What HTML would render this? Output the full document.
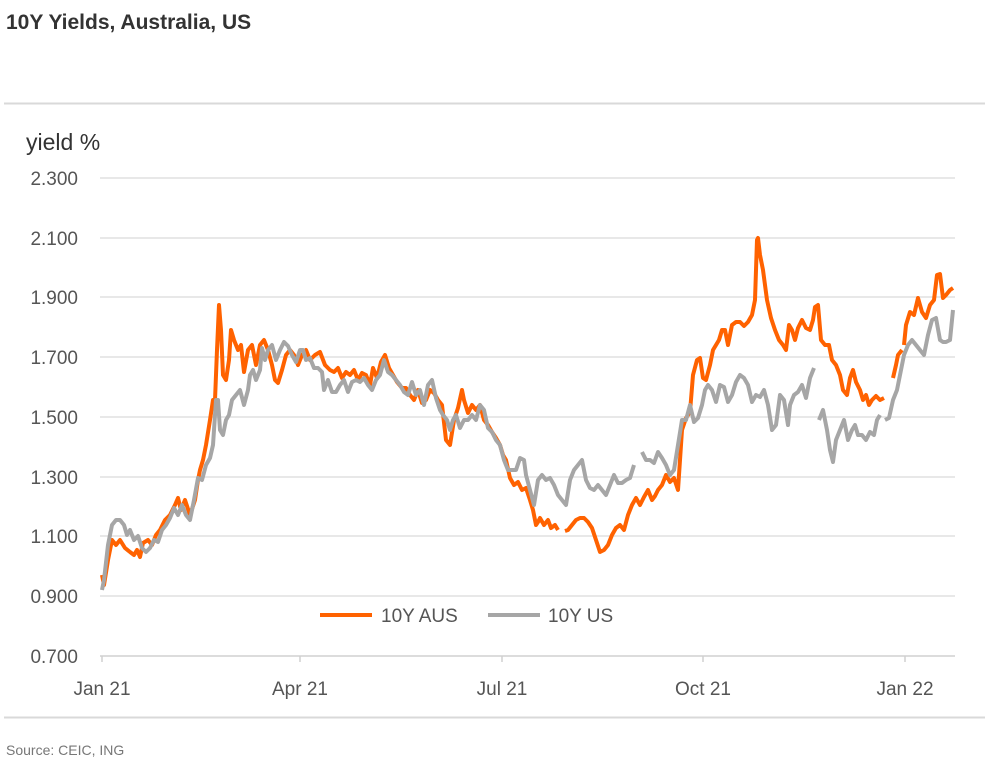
<!DOCTYPE html>
<html><head><meta charset="utf-8"><style>
html,body{margin:0;padding:0;background:#fff;}
body{width:992px;height:769px;overflow:hidden;position:relative;font-family:"Liberation Sans",sans-serif;}
</style></head><body>
<svg width="992" height="769" viewBox="0 0 992 769" xmlns="http://www.w3.org/2000/svg" style="position:absolute;left:0;top:0">
<text x="6" y="29" font-size="21" font-weight="bold" fill="#333" font-family="Liberation Sans, sans-serif">10Y Yields, Australia, US</text>
<line x1="4" y1="103.5" x2="985" y2="103.5" stroke="#d9d9d9" stroke-width="2"/>
<line x1="4" y1="717.5" x2="985" y2="717.5" stroke="#d9d9d9" stroke-width="2"/>
<text x="6" y="755" font-size="14" fill="#777" font-family="Liberation Sans, sans-serif">Source: CEIC, ING</text>
<text x="26" y="150" font-size="23" fill="#333" font-family="Liberation Sans, sans-serif">yield %</text>
<g stroke="#e0e0e0" stroke-width="1.5">
<line x1="100" y1="178" x2="955" y2="178"/><line x1="100" y1="238" x2="955" y2="238"/>
<line x1="100" y1="297" x2="955" y2="297"/><line x1="100" y1="357" x2="955" y2="357"/>
<line x1="100" y1="417" x2="955" y2="417"/><line x1="100" y1="477" x2="955" y2="477"/>
<line x1="100" y1="536" x2="955" y2="536"/><line x1="100" y1="596" x2="955" y2="596"/>
</g>
<line x1="100" y1="656" x2="955" y2="656" stroke="#d0d0d0" stroke-width="1.5"/>
<g stroke="#d0d0d0" stroke-width="1.5">
<line x1="102" y1="656" x2="102" y2="662"/><line x1="300" y1="656" x2="300" y2="662"/>
<line x1="502" y1="656" x2="502" y2="662"/><line x1="703" y1="656" x2="703" y2="662"/>
<line x1="905" y1="656" x2="905" y2="662"/>
</g>
<g font-size="19" fill="#555" text-anchor="end" font-family="Liberation Sans, sans-serif">
<text x="78" y="185">2.300</text><text x="78" y="245">2.100</text><text x="78" y="304">1.900</text>
<text x="78" y="364">1.700</text><text x="78" y="424">1.500</text><text x="78" y="484">1.300</text>
<text x="78" y="543">1.100</text><text x="78" y="603">0.900</text><text x="78" y="663">0.700</text>
</g>
<g font-size="19" fill="#555" text-anchor="middle" font-family="Liberation Sans, sans-serif">
<text x="102" y="695">Jan 21</text><text x="300" y="695">Apr 21</text><text x="502" y="695">Jul 21</text>
<text x="703" y="695">Oct 21</text><text x="905" y="695">Jan 22</text>
</g>
<g fill="none" stroke="#ff6200" stroke-width="4" stroke-linejoin="round">
<polyline points="102,575 104,585 108,560 112,540 116,545 120,540 125,548 130,552 134,555 137,550 140,557 143,543 148,540 152,545 156,535 160,530 165,520 170,515 175,505 178,498 181,510 185,500 190,515 195,500 198,480 200,470 203,460 206,445 210,420 213,400 215,400 217,350 219,305 221,330 223,375 226,380 229,360 231,330 234,340 238,350 241,345 244,372 248,350 252,345 256,365 260,345 264,340 268,350 272,365 275,380 278,383 282,370 286,355 290,350 294,355 298,365 302,355 306,350 310,360 315,355 320,352 325,365 330,370 334,372 338,368 342,378 346,372 350,375 354,370 358,380 362,373 366,375 370,385 373,368 377,378 381,362 385,355 389,368 393,375 397,382 402,388 406,388 410,395 414,400 418,390 422,403 426,400 430,390 434,393 438,400 442,405 446,440 450,445 454,420 458,408 462,390 464,400 468,413 472,405 476,410 480,405 484,420 488,425 492,432 496,438 500,445 503,455 506,460 510,478 514,485 518,482 522,490 526,488 530,500 533,510 536,525 538,522 540,518 544,525 548,520 551,528 555,525 558,530"/>
<polyline points="565,531 568,530 572,525 576,520 580,518 584,518 588,522 592,528 596,540 600,552 604,550 608,545 612,535 616,528 620,525 624,530 628,515 632,505 636,498 640,505 644,497 648,490 652,500 655,496 658,490 662,485 666,475 670,482 674,478 678,490 682,430 686,418 690,412 693,375 697,360 700,358 703,378 706,380 710,365 713,350 716,345 719,340 722,330 725,330 728,345 732,325 736,322 740,322 744,326 748,322 752,315 755,300 757,240 758,238 760,255 763,270 767,300 771,318 775,330 779,340 783,345 786,350 789,325 792,330 795,340 798,328 802,320 806,328 810,330 813,320 815,307 818,305 821,340 825,345 829,345 832,360 836,365 840,375 843,390 847,395 850,378 853,370 856,382 860,390 863,400 866,395 869,405 872,400 876,396 880,400 884,398"/>
<polyline points="893,378 896,365 898,355 902,350"/>
<polyline points="904,345 906,325 910,312 914,315 918,298 922,312 926,318 930,305 934,300 937,275 940,274 943,298 946,295 950,290 953,288"/>
</g>
<g fill="none" stroke="#a6a6a6" stroke-width="4" stroke-linejoin="round">
<polyline points="102,590 104,580 108,545 112,525 116,520 120,520 124,525 127,535 130,530 134,540 138,536 142,548 146,552 150,548 154,540 158,542 162,530 166,525 170,518 174,508 178,515 182,505 186,515 190,520 194,500 198,478 202,480 206,465 210,458 213,445 216,400 218,400 220,430 223,435 226,420 229,415 232,400 236,395 240,390 244,405 248,390 250,375 253,370 256,380 260,370 262,348 265,360 268,350 272,345 276,360 280,350 284,342 288,346 292,355 296,362 300,350 303,350 306,360 310,358 314,368 318,368 322,372 324,390 328,380 332,392 336,392 340,385 344,380 348,392 352,382 356,380 360,382 364,378 368,385 372,390 376,380 380,375 384,360 388,372 392,375 396,380 400,385 404,392 408,395 412,382 416,395 420,390 424,405 428,385 432,380 436,398 440,410 443,415 447,420 450,430 453,420 456,415 460,428 464,420 468,420 472,415 476,420 480,405 484,410 488,428 492,432 496,440 500,445 504,460 508,470 512,470 516,470 520,458 524,460 526,475 530,490 534,505 538,480 542,475 546,480 550,478 554,485 558,495 562,500 566,505 570,480 574,470 578,465 582,460 586,480 590,488 594,490 598,485 602,490 606,495 610,485 614,475 618,483 622,483 626,480 630,478 634,465"/>
<polyline points="642,452 646,460 650,460 654,463 658,452 662,458 666,465 670,475 674,470 678,445 682,420 686,420 690,405 694,422 698,418 702,405 705,390 708,385 712,390 716,402 720,385 724,387 728,402 732,395 736,382 740,375 744,378 748,385 752,402 756,395 760,397 764,390 768,405 772,430 776,425 780,395 784,400 788,425 790,405 794,395 798,392 802,385 806,398 810,378 814,368"/>
<polyline points="819,420 823,410 827,430 830,450 833,462 836,440 840,430 844,420 848,440 852,430 855,425 858,435 862,435 866,440 870,432 874,435 877,420 880,415"/>
<polyline points="885,420 889,418 893,400 897,390 900,375 904,355 908,345 912,340 916,345 920,350 924,355 928,335 932,320 936,318 940,340 943,342 946,342 950,340 953,310"/>
</g>
<line x1="320" y1="615" x2="372" y2="615" stroke="#ff6200" stroke-width="4"/>
<text x="381" y="622" font-size="19" fill="#555" font-family="Liberation Sans, sans-serif">10Y AUS</text>
<line x1="488" y1="615" x2="540" y2="615" stroke="#a6a6a6" stroke-width="4"/>
<text x="548" y="622" font-size="19" fill="#555" font-family="Liberation Sans, sans-serif">10Y US</text>
</svg>
</body></html>
